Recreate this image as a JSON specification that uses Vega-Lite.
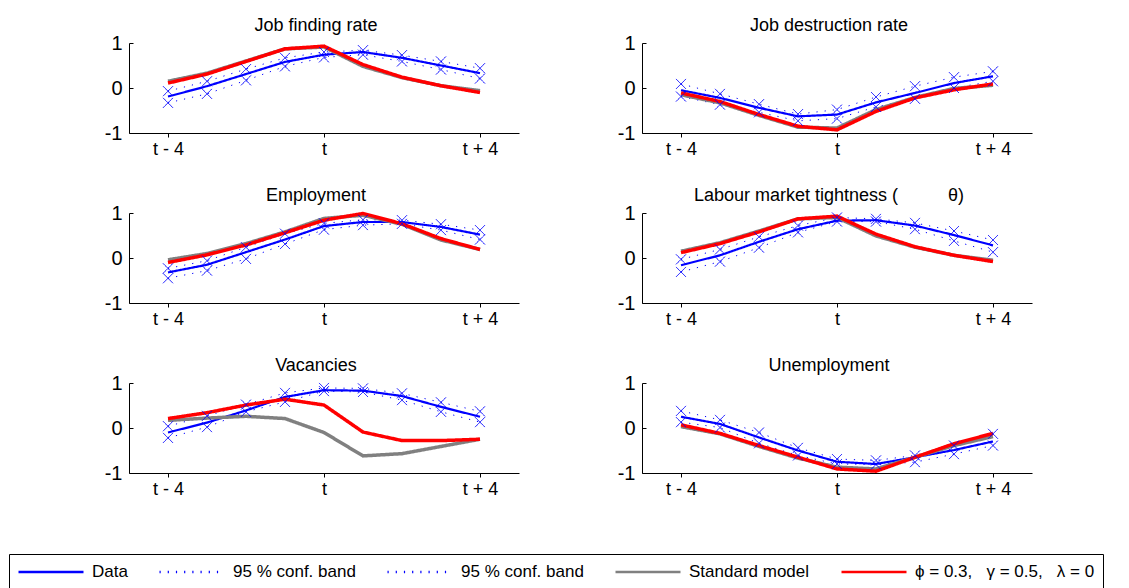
{
  "$schema": "https://vega.github.io/schema/vega-lite/v6.json",
  "padding": {"left": 8, "top": 17, "right": 0, "bottom": 0},
  "background": "white",
  "data": {"values": [
    {"p": "jf", "k": -4, "data": -0.19, "upper": -0.07, "lower": -0.33, "standard": 0.15, "model": 0.11},
    {"p": "jf", "k": -3, "data": 0.04, "upper": 0.15, "lower": -0.13, "standard": 0.33, "model": 0.31},
    {"p": "jf", "k": -2, "data": 0.31, "upper": 0.42, "lower": 0.17, "standard": 0.60, "model": 0.59},
    {"p": "jf", "k": -1, "data": 0.58, "upper": 0.67, "lower": 0.48, "standard": 0.87, "model": 0.87},
    {"p": "jf", "k": 0, "data": 0.74, "upper": 0.80, "lower": 0.68, "standard": 0.91, "model": 0.93},
    {"p": "jf", "k": 1, "data": 0.80, "upper": 0.84, "lower": 0.74, "standard": 0.48, "model": 0.52},
    {"p": "jf", "k": 2, "data": 0.67, "upper": 0.73, "lower": 0.59, "standard": 0.23, "model": 0.24},
    {"p": "jf", "k": 3, "data": 0.50, "upper": 0.59, "lower": 0.41, "standard": 0.05, "model": 0.05},
    {"p": "jf", "k": 4, "data": 0.33, "upper": 0.44, "lower": 0.21, "standard": -0.06, "model": -0.10},
    {"p": "jd", "k": -4, "data": -0.05, "upper": 0.09, "lower": -0.19, "standard": -0.15, "model": -0.11},
    {"p": "jd", "k": -3, "data": -0.22, "upper": -0.13, "lower": -0.37, "standard": -0.33, "model": -0.30},
    {"p": "jd", "k": -2, "data": -0.44, "upper": -0.36, "lower": -0.54, "standard": -0.61, "model": -0.59},
    {"p": "jd", "k": -1, "data": -0.63, "upper": -0.58, "lower": -0.73, "standard": -0.87, "model": -0.85},
    {"p": "jd", "k": 0, "data": -0.59, "upper": -0.48, "lower": -0.68, "standard": -0.89, "model": -0.93},
    {"p": "jd", "k": 1, "data": -0.32, "upper": -0.20, "lower": -0.42, "standard": -0.48, "model": -0.52},
    {"p": "jd", "k": 2, "data": -0.11, "upper": 0.04, "lower": -0.24, "standard": -0.21, "model": -0.22},
    {"p": "jd", "k": 3, "data": 0.11, "upper": 0.24, "lower": 0.00, "standard": -0.01, "model": -0.04},
    {"p": "jd", "k": 4, "data": 0.26, "upper": 0.37, "lower": 0.15, "standard": 0.06, "model": 0.09},
    {"p": "emp", "k": -4, "data": -0.32, "upper": -0.23, "lower": -0.45, "standard": -0.04, "model": -0.10},
    {"p": "emp", "k": -3, "data": -0.15, "upper": -0.06, "lower": -0.28, "standard": 0.10, "model": 0.07},
    {"p": "emp", "k": -2, "data": 0.13, "upper": 0.24, "lower": -0.02, "standard": 0.32, "model": 0.29},
    {"p": "emp", "k": -1, "data": 0.41, "upper": 0.54, "lower": 0.31, "standard": 0.58, "model": 0.56},
    {"p": "emp", "k": 0, "data": 0.71, "upper": 0.77, "lower": 0.63, "standard": 0.88, "model": 0.84},
    {"p": "emp", "k": 1, "data": 0.80, "upper": 0.85, "lower": 0.73, "standard": 0.95, "model": 0.99},
    {"p": "emp", "k": 2, "data": 0.80, "upper": 0.84, "lower": 0.76, "standard": 0.75, "model": 0.76},
    {"p": "emp", "k": 3, "data": 0.69, "upper": 0.75, "lower": 0.62, "standard": 0.40, "model": 0.43},
    {"p": "emp", "k": 4, "data": 0.52, "upper": 0.62, "lower": 0.41, "standard": 0.19, "model": 0.19},
    {"p": "lmt", "k": -4, "data": -0.16, "upper": -0.03, "lower": -0.31, "standard": 0.15, "model": 0.12},
    {"p": "lmt", "k": -3, "data": 0.06, "upper": 0.19, "lower": -0.08, "standard": 0.34, "model": 0.32},
    {"p": "lmt", "k": -2, "data": 0.36, "upper": 0.47, "lower": 0.23, "standard": 0.60, "model": 0.58},
    {"p": "lmt", "k": -1, "data": 0.64, "upper": 0.72, "lower": 0.57, "standard": 0.87, "model": 0.87},
    {"p": "lmt", "k": 0, "data": 0.83, "upper": 0.90, "lower": 0.81, "standard": 0.90, "model": 0.93},
    {"p": "lmt", "k": 1, "data": 0.84, "upper": 0.87, "lower": 0.81, "standard": 0.49, "model": 0.53},
    {"p": "lmt", "k": 2, "data": 0.72, "upper": 0.78, "lower": 0.64, "standard": 0.24, "model": 0.25},
    {"p": "lmt", "k": 3, "data": 0.51, "upper": 0.60, "lower": 0.38, "standard": 0.06, "model": 0.06},
    {"p": "lmt", "k": 4, "data": 0.28, "upper": 0.40, "lower": 0.13, "standard": -0.05, "model": -0.08},
    {"p": "vac", "k": -4, "data": -0.10, "upper": 0.04, "lower": -0.22, "standard": 0.17, "model": 0.21},
    {"p": "vac", "k": -3, "data": 0.12, "upper": 0.27, "lower": 0.02, "standard": 0.22, "model": 0.34},
    {"p": "vac", "k": -2, "data": 0.39, "upper": 0.52, "lower": 0.36, "standard": 0.26, "model": 0.51},
    {"p": "vac", "k": -1, "data": 0.69, "upper": 0.78, "lower": 0.58, "standard": 0.21, "model": 0.64},
    {"p": "vac", "k": 0, "data": 0.84, "upper": 0.89, "lower": 0.82, "standard": -0.10, "model": 0.51},
    {"p": "vac", "k": 1, "data": 0.83, "upper": 0.88, "lower": 0.80, "standard": -0.62, "model": -0.09},
    {"p": "vac", "k": 2, "data": 0.71, "upper": 0.77, "lower": 0.62, "standard": -0.57, "model": -0.28},
    {"p": "vac", "k": 3, "data": 0.47, "upper": 0.57, "lower": 0.36, "standard": -0.41, "model": -0.28},
    {"p": "vac", "k": 4, "data": 0.25, "upper": 0.37, "lower": 0.13, "standard": -0.25, "model": -0.25},
    {"p": "unemp", "k": -4, "data": 0.25, "upper": 0.38, "lower": 0.13, "standard": 0.03, "model": 0.07},
    {"p": "unemp", "k": -3, "data": 0.09, "upper": 0.18, "lower": 0.01, "standard": -0.13, "model": -0.12},
    {"p": "unemp", "k": -2, "data": -0.21, "upper": -0.10, "lower": -0.34, "standard": -0.41, "model": -0.39},
    {"p": "unemp", "k": -1, "data": -0.50, "upper": -0.44, "lower": -0.61, "standard": -0.67, "model": -0.65},
    {"p": "unemp", "k": 0, "data": -0.75, "upper": -0.69, "lower": -0.80, "standard": -0.87, "model": -0.91},
    {"p": "unemp", "k": 1, "data": -0.80, "upper": -0.72, "lower": -0.81, "standard": -0.91, "model": -0.96},
    {"p": "unemp", "k": 2, "data": -0.65, "upper": -0.61, "lower": -0.76, "standard": -0.65, "model": -0.65},
    {"p": "unemp", "k": 3, "data": -0.49, "upper": -0.39, "lower": -0.58, "standard": -0.39, "model": -0.35},
    {"p": "unemp", "k": 4, "data": -0.30, "upper": -0.13, "lower": -0.39, "standard": -0.19, "model": -0.12}
  ]},
  "transform": [{"fold": ["data", "upper", "lower", "standard", "model"], "as": ["s", "v"]}],
  "columns": 2,
  "bounds": "flush",
  "spacing": {"row": 80, "column": 123},
  "concat": [
    {
      "title": "Job finding rate",
      "width": 390, "height": 90,
      "transform": [{"filter": "datum.p == 'jf'"}],
      "encoding": {
        "x": {"field": "k", "type": "quantitative", "scale": {"domain": [-5, 5], "nice": false}, "axis": {"values": [-4, 0, 4], "labelExpr": "datum.value == 0 ? 't' : (datum.value < 0 ? 't - 4' : 't + 4')", "title": null}},
        "y": {"field": "v", "type": "quantitative", "scale": {"domain": [-1, 1], "nice": false}, "axis": {"values": [-1, 0, 1], "labelExpr": "datum.value == 0 ? '0' : (datum.value < 0 ? '-1' : '1')", "title": null}},
        "color": {"field": "s", "type": "nominal", "scale": {"domain": ["data", "upper", "lower", "standard", "model"], "range": ["#0000ff", "#0000ff", "#0000ff", "#808080", "#ff0000"]},
          "legend": {"title": null, "orient": "none", "legendX": -120, "legendY": 511, "direction": "horizontal", "strokeColor": "black", "padding": 8, "symbolType": "stroke", "symbolSize": 4225, "clipHeight": 20, "symbolStrokeWidth": 2.5, "labelOffset": 7, "columnPadding": 30, "labelFontSize": 17, "labelFont": "Liberation Sans", "labelColor": "black", "labelLimit": 400,
            "labelExpr": "datum.value == 'data' ? 'Data' : (datum.value == 'standard' ? 'Standard model' : (datum.value == 'model' ? 'ϕ = 0.3,\u00a0\u00a0\u00a0γ = 0.5,\u00a0\u00a0\u00a0λ = 0' : '95 % conf. band'))"}},
        "strokeDash": {"field": "s", "type": "nominal", "title": null, "scale": {"domain": ["data", "upper", "lower", "standard", "model"], "range": [[1, 0], [1.2, 7], [1.2, 7], [1, 0], [1, 0]]}}
      },
      "layer": [
        {"data": {"values": [{}]}, "mark": {"type": "rule", "strokeWidth": 1}, "encoding": {"x": {"datum": 0}, "y": {"datum": -1}, "y2": {"datum": 1}, "color": {"value": "#0000ff"}, "strokeDash": {"value": [1, 0]}}},
        {"transform": [{"filter": "datum.s == 'upper' || datum.s == 'lower'"}], "mark": {"type": "line", "strokeWidth": 1}},
        {"transform": [{"filter": "datum.s == 'data'"}], "mark": {"type": "line", "strokeWidth": 2.2}},
        {"transform": [{"filter": "datum.s == 'standard'"}], "mark": {"type": "line", "strokeWidth": 3.5}},
        {"transform": [{"filter": "datum.s == 'model'"}], "mark": {"type": "line", "strokeWidth": 3.5}},
        {"transform": [{"filter": "datum.s == 'upper' || datum.s == 'lower'"}], "mark": {"type": "point", "shape": "M-1,-1L1,1M-1,1L1,-1", "size": 100, "filled": false, "strokeWidth": 1, "opacity": 1}, "encoding": {"color": {"value": "#0000ff"}, "strokeDash": {"value": [1, 0]}}}
      ]
    },
    {
      "title": "Job destruction rate",
      "width": 390, "height": 90,
      "transform": [{"filter": "datum.p == 'jd'"}],
      "encoding": {
        "x": {"field": "k", "type": "quantitative", "scale": {"domain": [-5, 5], "nice": false}, "axis": {"values": [-4, 0, 4], "labelExpr": "datum.value == 0 ? 't' : (datum.value < 0 ? 't - 4' : 't + 4')", "title": null}},
        "y": {"field": "v", "type": "quantitative", "scale": {"domain": [-1, 1], "nice": false}, "axis": {"values": [-1, 0, 1], "labelExpr": "datum.value == 0 ? '0' : (datum.value < 0 ? '-1' : '1')", "title": null}},
        "color": {"field": "s", "type": "nominal", "title": null},
        "strokeDash": {"field": "s", "type": "nominal", "title": null}
      },
      "layer": [
        {"data": {"values": [{}]}, "mark": {"type": "rule", "strokeWidth": 1}, "encoding": {"x": {"datum": 0}, "y": {"datum": -1}, "y2": {"datum": 1}, "color": {"value": "#0000ff"}, "strokeDash": {"value": [1, 0]}}},
        {"transform": [{"filter": "datum.s == 'upper' || datum.s == 'lower'"}], "mark": {"type": "line", "strokeWidth": 1}},
        {"transform": [{"filter": "datum.s == 'data'"}], "mark": {"type": "line", "strokeWidth": 2.2}},
        {"transform": [{"filter": "datum.s == 'standard'"}], "mark": {"type": "line", "strokeWidth": 3.5}},
        {"transform": [{"filter": "datum.s == 'model'"}], "mark": {"type": "line", "strokeWidth": 3.5}},
        {"transform": [{"filter": "datum.s == 'upper' || datum.s == 'lower'"}], "mark": {"type": "point", "shape": "M-1,-1L1,1M-1,1L1,-1", "size": 100, "filled": false, "strokeWidth": 1, "opacity": 1}, "encoding": {"color": {"value": "#0000ff"}, "strokeDash": {"value": [1, 0]}}}
      ]
    },
    {
      "title": "Employment",
      "width": 390, "height": 90,
      "transform": [{"filter": "datum.p == 'emp'"}],
      "encoding": {
        "x": {"field": "k", "type": "quantitative", "scale": {"domain": [-5, 5], "nice": false}, "axis": {"values": [-4, 0, 4], "labelExpr": "datum.value == 0 ? 't' : (datum.value < 0 ? 't - 4' : 't + 4')", "title": null}},
        "y": {"field": "v", "type": "quantitative", "scale": {"domain": [-1, 1], "nice": false}, "axis": {"values": [-1, 0, 1], "labelExpr": "datum.value == 0 ? '0' : (datum.value < 0 ? '-1' : '1')", "title": null}},
        "color": {"field": "s", "type": "nominal", "title": null},
        "strokeDash": {"field": "s", "type": "nominal", "title": null}
      },
      "layer": [
        {"data": {"values": [{}]}, "mark": {"type": "rule", "strokeWidth": 1}, "encoding": {"x": {"datum": 0}, "y": {"datum": -1}, "y2": {"datum": 1}, "color": {"value": "#0000ff"}, "strokeDash": {"value": [1, 0]}}},
        {"transform": [{"filter": "datum.s == 'upper' || datum.s == 'lower'"}], "mark": {"type": "line", "strokeWidth": 1}},
        {"transform": [{"filter": "datum.s == 'data'"}], "mark": {"type": "line", "strokeWidth": 2.2}},
        {"transform": [{"filter": "datum.s == 'standard'"}], "mark": {"type": "line", "strokeWidth": 3.5}},
        {"transform": [{"filter": "datum.s == 'model'"}], "mark": {"type": "line", "strokeWidth": 3.5}},
        {"transform": [{"filter": "datum.s == 'upper' || datum.s == 'lower'"}], "mark": {"type": "point", "shape": "M-1,-1L1,1M-1,1L1,-1", "size": 100, "filled": false, "strokeWidth": 1, "opacity": 1}, "encoding": {"color": {"value": "#0000ff"}, "strokeDash": {"value": [1, 0]}}}
      ]
    },
    {
      "title": "Labour market tightness (\u00a0\u00a0\u00a0\u00a0\u00a0\u00a0\u00a0\u00a0\u00a0\u00a0θ)",
      "width": 390, "height": 90,
      "transform": [{"filter": "datum.p == 'lmt'"}],
      "encoding": {
        "x": {"field": "k", "type": "quantitative", "scale": {"domain": [-5, 5], "nice": false}, "axis": {"values": [-4, 0, 4], "labelExpr": "datum.value == 0 ? 't' : (datum.value < 0 ? 't - 4' : 't + 4')", "title": null}},
        "y": {"field": "v", "type": "quantitative", "scale": {"domain": [-1, 1], "nice": false}, "axis": {"values": [-1, 0, 1], "labelExpr": "datum.value == 0 ? '0' : (datum.value < 0 ? '-1' : '1')", "title": null}},
        "color": {"field": "s", "type": "nominal", "title": null},
        "strokeDash": {"field": "s", "type": "nominal", "title": null}
      },
      "layer": [
        {"data": {"values": [{}]}, "mark": {"type": "rule", "strokeWidth": 1}, "encoding": {"x": {"datum": 0}, "y": {"datum": -1}, "y2": {"datum": 1}, "color": {"value": "#0000ff"}, "strokeDash": {"value": [1, 0]}}},
        {"transform": [{"filter": "datum.s == 'upper' || datum.s == 'lower'"}], "mark": {"type": "line", "strokeWidth": 1}},
        {"transform": [{"filter": "datum.s == 'data'"}], "mark": {"type": "line", "strokeWidth": 2.2}},
        {"transform": [{"filter": "datum.s == 'standard'"}], "mark": {"type": "line", "strokeWidth": 3.5}},
        {"transform": [{"filter": "datum.s == 'model'"}], "mark": {"type": "line", "strokeWidth": 3.5}},
        {"transform": [{"filter": "datum.s == 'upper' || datum.s == 'lower'"}], "mark": {"type": "point", "shape": "M-1,-1L1,1M-1,1L1,-1", "size": 100, "filled": false, "strokeWidth": 1, "opacity": 1}, "encoding": {"color": {"value": "#0000ff"}, "strokeDash": {"value": [1, 0]}}}
      ]
    },
    {
      "title": "Vacancies",
      "width": 390, "height": 90,
      "transform": [{"filter": "datum.p == 'vac'"}],
      "encoding": {
        "x": {"field": "k", "type": "quantitative", "scale": {"domain": [-5, 5], "nice": false}, "axis": {"values": [-4, 0, 4], "labelExpr": "datum.value == 0 ? 't' : (datum.value < 0 ? 't - 4' : 't + 4')", "title": null}},
        "y": {"field": "v", "type": "quantitative", "scale": {"domain": [-1, 1], "nice": false}, "axis": {"values": [-1, 0, 1], "labelExpr": "datum.value == 0 ? '0' : (datum.value < 0 ? '-1' : '1')", "title": null}},
        "color": {"field": "s", "type": "nominal", "title": null},
        "strokeDash": {"field": "s", "type": "nominal", "title": null}
      },
      "layer": [
        {"data": {"values": [{}]}, "mark": {"type": "rule", "strokeWidth": 1}, "encoding": {"x": {"datum": 0}, "y": {"datum": -1}, "y2": {"datum": 1}, "color": {"value": "#0000ff"}, "strokeDash": {"value": [1, 0]}}},
        {"transform": [{"filter": "datum.s == 'upper' || datum.s == 'lower'"}], "mark": {"type": "line", "strokeWidth": 1}},
        {"transform": [{"filter": "datum.s == 'data'"}], "mark": {"type": "line", "strokeWidth": 2.2}},
        {"transform": [{"filter": "datum.s == 'standard'"}], "mark": {"type": "line", "strokeWidth": 3.5}},
        {"transform": [{"filter": "datum.s == 'model'"}], "mark": {"type": "line", "strokeWidth": 3.5}},
        {"transform": [{"filter": "datum.s == 'upper' || datum.s == 'lower'"}], "mark": {"type": "point", "shape": "M-1,-1L1,1M-1,1L1,-1", "size": 100, "filled": false, "strokeWidth": 1, "opacity": 1}, "encoding": {"color": {"value": "#0000ff"}, "strokeDash": {"value": [1, 0]}}}
      ]
    },
    {
      "title": "Unemployment",
      "width": 390, "height": 90,
      "transform": [{"filter": "datum.p == 'unemp'"}],
      "encoding": {
        "x": {"field": "k", "type": "quantitative", "scale": {"domain": [-5, 5], "nice": false}, "axis": {"values": [-4, 0, 4], "labelExpr": "datum.value == 0 ? 't' : (datum.value < 0 ? 't - 4' : 't + 4')", "title": null}},
        "y": {"field": "v", "type": "quantitative", "scale": {"domain": [-1, 1], "nice": false}, "axis": {"values": [-1, 0, 1], "labelExpr": "datum.value == 0 ? '0' : (datum.value < 0 ? '-1' : '1')", "title": null}},
        "color": {"field": "s", "type": "nominal", "title": null},
        "strokeDash": {"field": "s", "type": "nominal", "title": null}
      },
      "layer": [
        {"data": {"values": [{}]}, "mark": {"type": "rule", "strokeWidth": 1}, "encoding": {"x": {"datum": 0}, "y": {"datum": -1}, "y2": {"datum": 1}, "color": {"value": "#0000ff"}, "strokeDash": {"value": [1, 0]}}},
        {"transform": [{"filter": "datum.s == 'upper' || datum.s == 'lower'"}], "mark": {"type": "line", "strokeWidth": 1}},
        {"transform": [{"filter": "datum.s == 'data'"}], "mark": {"type": "line", "strokeWidth": 2.2}},
        {"transform": [{"filter": "datum.s == 'standard'"}], "mark": {"type": "line", "strokeWidth": 3.5}},
        {"transform": [{"filter": "datum.s == 'model'"}], "mark": {"type": "line", "strokeWidth": 3.5}},
        {"transform": [{"filter": "datum.s == 'upper' || datum.s == 'lower'"}], "mark": {"type": "point", "shape": "M-1,-1L1,1M-1,1L1,-1", "size": 100, "filled": false, "strokeWidth": 1, "opacity": 1}, "encoding": {"color": {"value": "#0000ff"}, "strokeDash": {"value": [1, 0]}}}
      ]
    }
  ],
  "config": {
    "view": {"stroke": null},
    "font": "Liberation Sans",
    "axis": {"grid": false, "domainColor": "black", "tickColor": "black", "labelColor": "black", "domainWidth": 1, "tickWidth": 1, "labelFont": "Liberation Sans", "labelFlush": false},
    "axisX": {"tickSize": 4, "labelFontSize": 18, "labelPadding": 3},
    "axisY": {"tickSize": -4, "labelFontSize": 20, "labelPadding": 11},
    "title": {"fontSize": 18, "fontWeight": "normal", "color": "black", "font": "Liberation Sans", "baseline": "alphabetic", "offset": -2, "dx": -8, "anchor": "middle", "frame": "group"}
  }
}
